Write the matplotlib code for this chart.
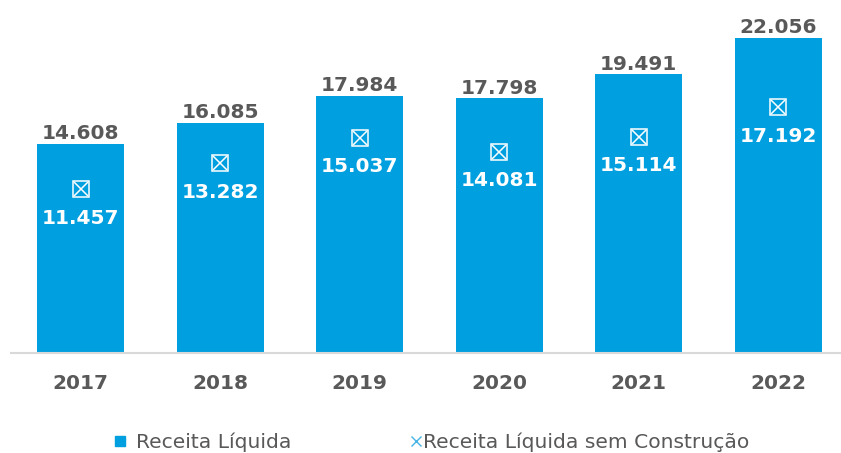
import matplotlib
matplotlib.use("Agg")
import matplotlib.pyplot as plt
from matplotlib.lines import Line2D

plt.rcParams['font.family'] = ['DejaVu Sans']

years = ["2017", "2018", "2019", "2020", "2021", "2022"]
receita_liquida = [14.608, 16.085, 17.984, 17.798, 19.491, 22.056]
receita_sem_construcao = [11.457, 13.282, 15.037, 14.081, 15.114, 17.192]
label_rl = "Receita Líquida"
label_rsc = "Receita Líquida sem Construção"

def fmt(v):
    return f"{v:.3f}"

BLUE = "#009FDF"
LIGHTBLUE = "#45B5E6"
GRAY = "#595959"

fig = plt.figure(figsize=(8.41, 4.53), dpi=100)
ax = fig.add_axes([11/841, 1 - 353/453, (848 - 11)/841, (353 - 0)/453])
x = list(range(len(years)))
ax.bar(x, receita_liquida, width=0.625, color=BLUE, zorder=2)

# boxed-x marker: square outline + x
ax.plot(x, receita_sem_construcao, linestyle="none", marker="s", markersize=11,
        markerfacecolor="none", markeredgecolor="white", markeredgewidth=1.1, zorder=3)
ax.plot(x, receita_sem_construcao, linestyle="none", marker="x", markersize=10,
        markeredgecolor="white", markeredgewidth=1.1, zorder=3)

for xi, v in zip(x, receita_liquida):
    ax.text(xi, v + 0.05, fmt(v), ha="center", va="bottom", fontsize=14.5,
            fontweight="bold", color=GRAY)
for xi, v in zip(x, receita_sem_construcao):
    ax.text(xi, v - 2.03, fmt(v), ha="center", va="center", fontsize=14.5,
            fontweight="bold", color="white", zorder=4)

ax.set_xlim(-0.5, 5.5)
ax.set_ylim(0, 353 / 14.3)
ax.set_xticks(x)
ax.set_xticklabels(years, fontsize=14.5, fontweight="bold", color=GRAY)
ax.tick_params(axis="x", length=0, pad=15)
ax.set_yticks([])
for s in ["top", "right", "left"]:
    ax.spines[s].set_visible(False)
ax.spines["bottom"].set_color("#D9D9D9")
ax.spines["bottom"].set_linewidth(1.5)

h1 = Line2D([], [], linestyle="none", marker="s", markersize=7.5, color=BLUE, label=label_rl)
h2 = Line2D([], [], linestyle="none", marker="x", markersize=7, markeredgewidth=1.0,
            color=LIGHTBLUE, label=label_rsc)
leg1 = fig.legend(handles=[h1], loc="center left", bbox_to_anchor=(114/841, 1 - 442/453),
                  frameon=False, fontsize=14.6, labelcolor=GRAY, borderpad=0, borderaxespad=0,
                  handletextpad=0.5, handlelength=0.6)
leg2 = fig.legend(handles=[h2], loc="center left", bbox_to_anchor=(410/841, 1 - 442/453),
                  frameon=False, fontsize=14.6, labelcolor=GRAY, borderpad=0, borderaxespad=0,
                  handletextpad=0.05, handlelength=0.6)

fig.savefig("out.png", dpi=100, facecolor="white")
